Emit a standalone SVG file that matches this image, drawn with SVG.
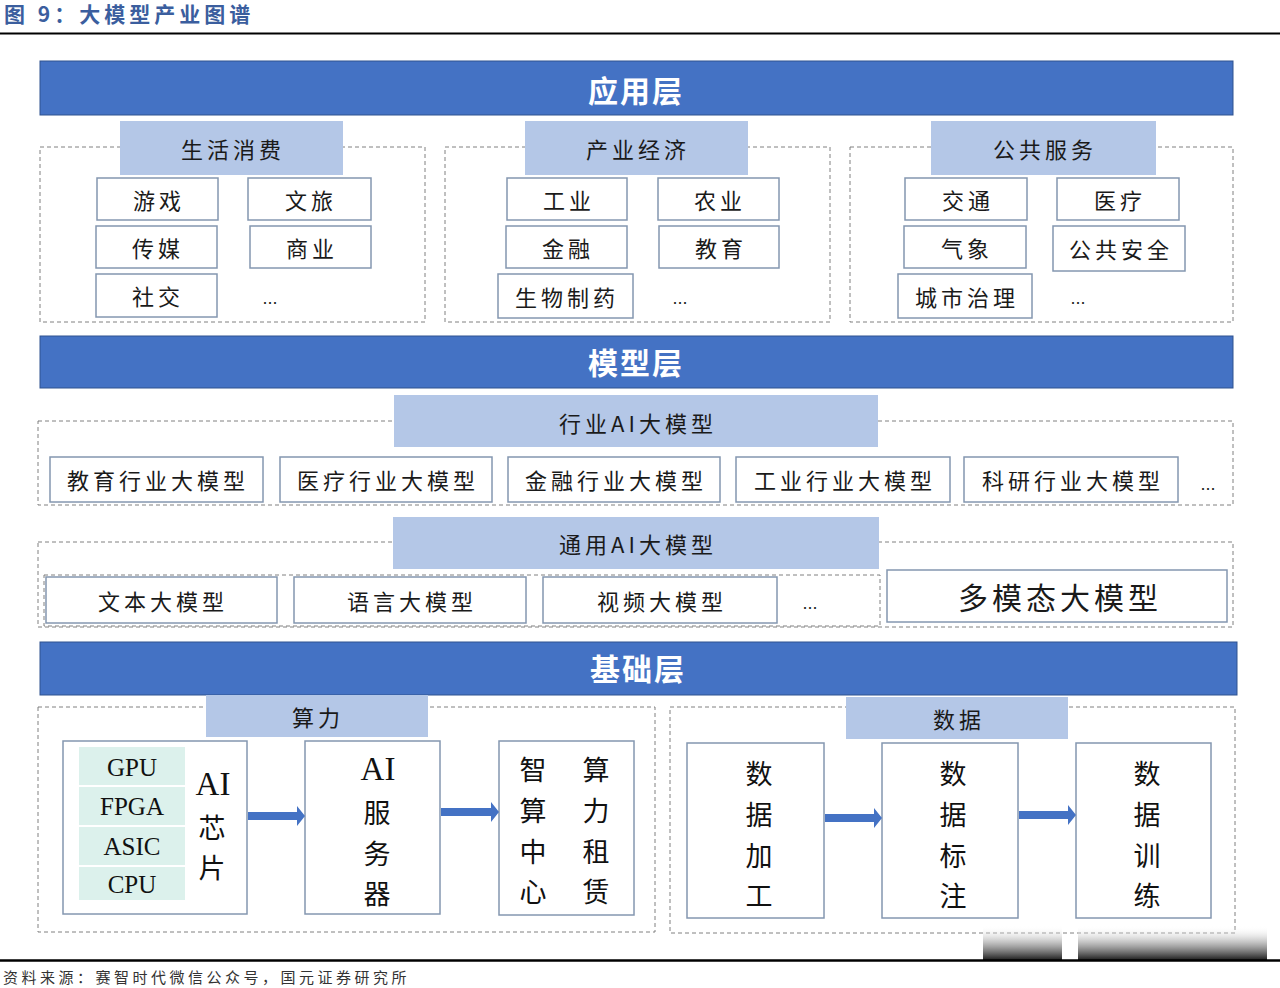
<svg xmlns="http://www.w3.org/2000/svg" width="1280" height="988" viewBox="0 0 1280 988">
<style>
.band{fill:#4472C4;stroke:#2F528F;stroke-width:1}
.bandt{font-family:"Noto Sans CJK SC",sans-serif;font-size:30px;font-weight:bold;fill:#fff;text-anchor:middle;dominant-baseline:central;letter-spacing:2px}
.hdr{fill:#B4C7E7}
.dash{fill:none;stroke:#808080;stroke-width:1;stroke-dasharray:4 3}
.box{fill:#fff;stroke:#8497B0;stroke-width:1.5}
.t{font-family:"Noto Sans CJK SC",sans-serif;font-size:22px;fill:#1a1a1a;text-anchor:middle;dominant-baseline:central;letter-spacing:4px}
.big{font-size:30px}
.v{font-family:"Noto Sans CJK SC",sans-serif;font-size:27px;fill:#111;text-anchor:middle;dominant-baseline:central}
.lat{font-family:"Liberation Serif",serif;fill:#111;text-anchor:middle;dominant-baseline:central}
.dots{font-family:"Liberation Sans",sans-serif;font-size:18px;fill:#222;text-anchor:middle}
.chip{fill:#DCF1EC}
.arrow{fill:#4472C4}
</style>
<defs>
<linearGradient id="wm" x1="0" y1="0" x2="0" y2="1">
<stop offset="0" stop-color="#ffffff" stop-opacity="0"/>
<stop offset="0.35" stop-color="#c8c8c8" stop-opacity="0.6"/>
<stop offset="1" stop-color="#1e1e1e" stop-opacity="1"/>
</linearGradient>
</defs>
<rect width="1280" height="988" fill="#fff"/>

<!-- title -->
<g id="title">
<text x="4" y="22" font-family="Noto Sans CJK SC,sans-serif" font-size="21" font-weight="bold" fill="#3B5E9E" letter-spacing="4">图 9：大模型产业图谱</text>
<line x1="0" y1="33.5" x2="1280" y2="33.5" stroke="#000" stroke-width="2"/>
</g>

<!-- ===== Application layer ===== -->
<g id="app-layer">
<rect class="band" x="40" y="61" width="1193" height="54"/>
<text class="bandt" x="636" y="89">应用层</text>
</g>

<g id="life">
<rect class="dash" x="40" y="147" width="385" height="175"/>
<rect class="hdr" x="120" y="121" width="223" height="54"/>
<text class="t" x="233" y="148">生活消费</text>
<g id="n-game"><rect class="box" x="97" y="178" width="121" height="42"/><text class="t" x="159" y="199">游戏</text></g>
<g id="n-travel"><rect class="box" x="248" y="178" width="123" height="42"/><text class="t" x="311" y="199">文旅</text></g>
<g id="n-media"><rect class="box" x="96" y="226" width="121" height="42"/><text class="t" x="158" y="247">传媒</text></g>
<g id="n-biz"><rect class="box" x="250" y="226" width="121" height="42"/><text class="t" x="312" y="247">商业</text></g>
<g id="n-social"><rect class="box" x="96" y="274" width="121" height="43"/><text class="t" x="158" y="295">社交</text></g>
<text class="dots" x="270" y="304">...</text>
</g>

<g id="industry">
<rect class="dash" x="445" y="147" width="385" height="175"/>
<rect class="hdr" x="525" y="121" width="223" height="54"/>
<text class="t" x="638" y="148">产业经济</text>
<g id="n-ind"><rect class="box" x="507" y="178" width="120" height="42"/><text class="t" x="569" y="199">工业</text></g>
<g id="n-agri"><rect class="box" x="658" y="178" width="121" height="42"/><text class="t" x="720" y="199">农业</text></g>
<g id="n-fin"><rect class="box" x="506" y="226" width="121" height="42"/><text class="t" x="568" y="247">金融</text></g>
<g id="n-edu"><rect class="box" x="659" y="226" width="120" height="42"/><text class="t" x="721" y="247">教育</text></g>
<g id="n-bio"><rect class="box" x="498" y="274" width="135" height="44"/><text class="t" x="567" y="296">生物制药</text></g>
<text class="dots" x="680" y="304">...</text>
</g>

<g id="public">
<rect class="dash" x="850" y="147" width="383" height="175"/>
<rect class="hdr" x="931" y="121" width="225" height="54"/>
<text class="t" x="1045" y="148">公共服务</text>
<g id="n-traffic"><rect class="box" x="905" y="178" width="122" height="42"/><text class="t" x="968" y="199">交通</text></g>
<g id="n-med"><rect class="box" x="1057" y="178" width="122" height="42"/><text class="t" x="1120" y="199">医疗</text></g>
<g id="n-weather"><rect class="box" x="904" y="226" width="122" height="42"/><text class="t" x="967" y="247">气象</text></g>
<g id="n-safety"><rect class="box" x="1053" y="226" width="132" height="45"/><text class="t" x="1121" y="248">公共安全</text></g>
<g id="n-city"><rect class="box" x="898" y="274" width="134" height="44"/><text class="t" x="967" y="296">城市治理</text></g>
<text class="dots" x="1078" y="304">...</text>
</g>

<!-- ===== Model layer ===== -->
<g id="model-layer">
<rect class="band" x="40" y="336" width="1193" height="52"/>
<text class="bandt" x="636" y="361">模型层</text>
</g>

<g id="industry-models">
<rect class="dash" x="38" y="421" width="1195" height="84"/>
<rect class="hdr" x="394" y="395" width="484" height="52"/>
<text class="t" x="638" y="422">行业AI大模型</text>
<g id="n-edu-m"><rect class="box" x="50" y="457" width="213" height="45"/><text class="t" x="158" y="479">教育行业大模型</text></g>
<g id="n-med-m"><rect class="box" x="280" y="457" width="212" height="45"/><text class="t" x="388" y="479">医疗行业大模型</text></g>
<g id="n-fin-m"><rect class="box" x="508" y="457" width="212" height="45"/><text class="t" x="616" y="479">金融行业大模型</text></g>
<g id="n-ind-m"><rect class="box" x="736" y="457" width="214" height="45"/><text class="t" x="845" y="479">工业行业大模型</text></g>
<g id="n-sci-m"><rect class="box" x="964" y="457" width="214" height="45"/><text class="t" x="1073" y="479">科研行业大模型</text></g>
<text class="dots" x="1208" y="490">...</text>
</g>

<g id="general-models">
<rect class="dash" x="38" y="542" width="1195" height="85"/>
<rect class="dash" x="44" y="575" width="836" height="51"/>
<rect class="hdr" x="393" y="517" width="486" height="52"/>
<text class="t" x="638" y="543">通用AI大模型</text>
<g id="n-text-m"><rect class="box" x="46" y="577" width="231" height="46"/><text class="t" x="163" y="600">文本大模型</text></g>
<g id="n-lang-m"><rect class="box" x="294" y="577" width="232" height="46"/><text class="t" x="412" y="600">语言大模型</text></g>
<g id="n-video-m"><rect class="box" x="543" y="577" width="234" height="46"/><text class="t" x="662" y="600">视频大模型</text></g>
<text class="dots" x="810" y="609">...</text>
<g id="n-multi-m"><rect class="box" x="887" y="570" width="340" height="52"/><text class="t big" x="1060" y="596">多模态大模型</text></g>
</g>

<!-- ===== Base layer ===== -->
<g id="base-layer">
<rect class="band" x="40" y="642" width="1197" height="53"/>
<text class="bandt" x="638" y="667">基础层</text>
</g>

<g id="compute">
<rect class="dash" x="38" y="707" width="617" height="225"/>
<rect class="hdr" x="206" y="695" width="222" height="42"/>
<text class="t" x="318" y="716">算力</text>
<g id="n-chip">
<rect class="box" x="63" y="741" width="184" height="173"/>
<rect class="chip" x="79" y="747" width="106" height="38"/>
<rect class="chip" x="79" y="787" width="106" height="38"/>
<rect class="chip" x="79" y="827" width="106" height="38"/>
<rect class="chip" x="79" y="867" width="106" height="33"/>
<text class="lat" x="132" y="767" font-size="25">GPU</text>
<text class="lat" x="132" y="806" font-size="25">FPGA</text>
<text class="lat" x="132" y="846" font-size="25">ASIC</text>
<text class="lat" x="132" y="884" font-size="25">CPU</text>
<text class="lat" x="213" y="784" font-size="33">AI</text>
<text class="v" x="212" y="826">芯</text>
<text class="v" x="212" y="866">片</text>
</g>
<g id="n-server">
<rect class="box" x="305" y="741" width="135" height="173"/>
<text class="lat" x="378" y="769" font-size="33">AI</text>
<text class="v" x="377" y="811">服</text>
<text class="v" x="377" y="852">务</text>
<text class="v" x="377" y="892">器</text>
</g>
<g id="n-center">
<rect class="box" x="499" y="741" width="135" height="174"/>
<text class="v" x="533" y="768">智</text>
<text class="v" x="533" y="809">算</text>
<text class="v" x="533" y="850">中</text>
<text class="v" x="533" y="890">心</text>
<text class="v" x="596" y="768">算</text>
<text class="v" x="596" y="809">力</text>
<text class="v" x="596" y="850">租</text>
<text class="v" x="596" y="890">赁</text>
</g>
</g>

<g id="data">
<rect class="dash" x="670" y="707" width="565" height="226"/>
<rect class="hdr" x="846" y="697" width="222" height="42"/>
<text class="t" x="959" y="718">数据</text>
<g id="n-proc">
<rect class="box" x="687" y="743" width="137" height="175"/>
<text class="v" x="759" y="772">数</text>
<text class="v" x="759" y="813">据</text>
<text class="v" x="759" y="854">加</text>
<text class="v" x="759" y="894">工</text>
</g>
<g id="n-label">
<rect class="box" x="882" y="743" width="136" height="175"/>
<text class="v" x="953" y="772">数</text>
<text class="v" x="953" y="813">据</text>
<text class="v" x="953" y="854">标</text>
<text class="v" x="953" y="894">注</text>
</g>
<g id="n-train">
<rect class="box" x="1076" y="743" width="135" height="175"/>
<text class="v" x="1147" y="772">数</text>
<text class="v" x="1147" y="813">据</text>
<text class="v" x="1147" y="854">训</text>
<text class="v" x="1147" y="894">练</text>
</g>
</g>

<!-- connectors -->
<g id="connectors">
<polygon class="arrow" points="248,812 297,812 297,806 305,816 297,826 297,820 248,820"/>
<polygon class="arrow" points="441,808 491,808 491,802 499,812 491,822 491,816 441,816"/>
<polygon class="arrow" points="825,814 874,814 874,808 882,818 874,828 874,822 825,822"/>
<polygon class="arrow" points="1019,811 1068,811 1068,805 1076,815 1068,825 1068,819 1019,819"/>
</g>

<!-- watermark shading -->
<g id="shade">
<rect x="983" y="926" width="79" height="34" fill="url(#wm)"/>
<rect x="1078" y="926" width="189" height="34" fill="url(#wm)"/>
</g>

<!-- footer -->
<g id="footer">
<line x1="0" y1="960.5" x2="1280" y2="960.5" stroke="#000" stroke-width="2.5"/>
<text x="3" y="983" font-family="Noto Sans CJK SC,sans-serif" font-size="15" fill="#333" letter-spacing="3.5">资料来源：赛智时代微信公众号，国元证券研究所</text>
</g>
</svg>
